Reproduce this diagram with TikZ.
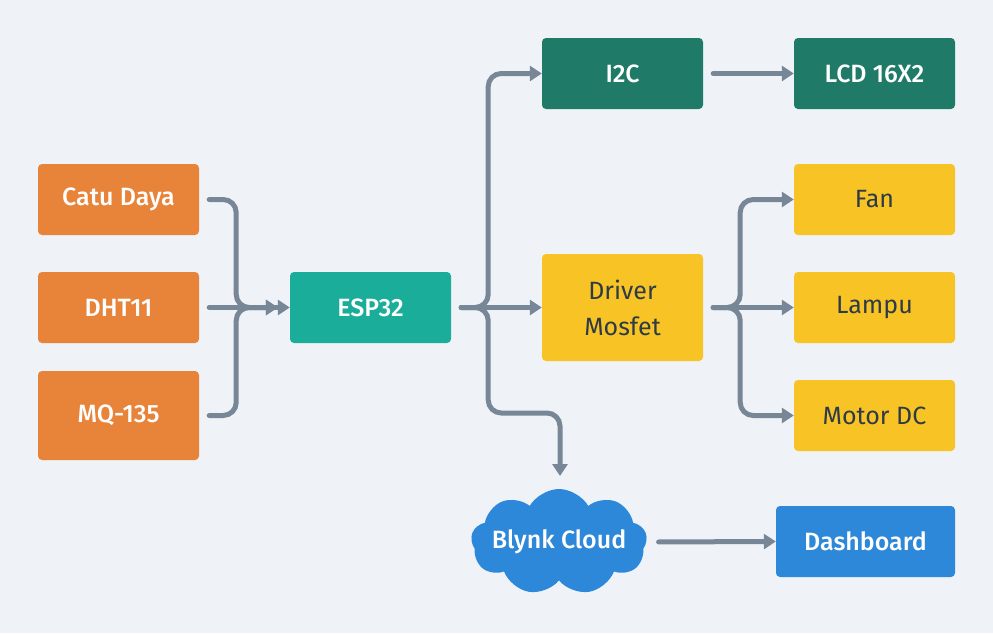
\documentclass[tikz,border=0pt]{standalone}
\usepackage{fontspec}
\setmainfont{Fira Sans}[BoldFont={Fira Sans Medium}]
\usepackage{tikz}
\usetikzlibrary{arrows.meta,shapes.symbols}

\definecolor{bgcol}{HTML}{EFF3F7}
\definecolor{orangebox}{HTML}{E8833A}
\definecolor{tealbox}{HTML}{1AAE9A}
\definecolor{greenbox}{HTML}{1F7A67}
\definecolor{yellowbox}{HTML}{F7C325}
\definecolor{bluebox}{HTML}{2E88D9}
\definecolor{linkcol}{HTML}{788797}
\definecolor{darktext}{HTML}{2E3B47}

\tikzset{
  block/.style={rounded corners=4pt, minimum width=161pt, minimum height=71pt, inner sep=0pt,
    align=center, font=\fontsize{25}{30}\selectfont\bfseries, text=white},
  inbox/.style={block, fill=orangebox},
  yelbox/.style={block, fill=yellowbox, text=darktext, font=\fontsize{25}{36}\selectfont},
  link/.style={draw=linkcol, line width=5pt, line cap=round, rounded corners=13pt,
    -{Triangle[length=12pt,width=15pt]}, shorten <=10pt},
}

\begin{document}
\begin{tikzpicture}[x=1pt,y=1pt,yscale=-1]
%background
\fill[bgcol] (0,0) rectangle (993,633);

% Input blocks
\node[inbox] (catu) at (118.5,199.5) {Catu Daya};
\node[inbox] (dht) at (118.5,307.5) {DHT11};
\node[inbox, minimum height=89pt] (mq) at (118.5,415.5) {MQ-135};
% Controller
\node[block, fill=tealbox] (esp) at (370.5,307.5) {ESP32};
% Display
\node[block, fill=greenbox] (i2c) at (622.5,73.5) {I2C};
\node[block, fill=greenbox] (lcd) at (874.5,73.5) {LCD 16X2};
% Driver and loads
\node[yelbox, minimum height=107pt] (drv) at (622.5,307.5) {Driver\\Mosfet};
\node[yelbox] (fan) at (874.5,199.5) {Fan};
\node[yelbox] (lampu) at (874.5,307.5) {Lampu};
\node[yelbox] (motor) at (874.5,415.5) {Motor DC};
% Cloud
\node[cloud, cloud puffs=9, cloud puff arc=120, aspect=1.65, fill=bluebox, inner sep=0pt,
  minimum width=176pt, minimum height=106pt,
  label={[text=white, font=\fontsize{25}{30}\selectfont\bfseries]center:Blynk Cloud}]
  (blynk) at (559,542) {};
\node[block, fill=bluebox, minimum width=179pt] (dash) at (865.5,541.5) {Dashboard};

\coordinate (cbend) at (560,413);
\coordinate (cin) at (560,476);

% Connectors
\draw[link, shorten >=12pt] (catu.east) -- ++(37,0) |- (esp.west);
\draw[link] (dht.east) -- (esp.west);
\draw[link, shorten >=12pt] (mq.east) -- ++(37,0) |- (esp.west);

\draw[link] (esp.east) -- ++(37,0) |- (i2c.west);
\draw[link] (esp.east) -- (drv.west);
\draw[link] (esp.east) -- ++(37,0) |- (cbend) -- (cin);

\draw[link] (i2c.east) -- (lcd.west);

\draw[link] (drv.east) -- ++(37,0) |- (fan.west);
\draw[link] (drv.east) -- (lampu.west);
\draw[link] (drv.east) -- ++(37,0) |- (motor.west);

\draw[link, shorten <=12pt] (blynk.east) -- (dash.west);
\end{tikzpicture}
\end{document}
